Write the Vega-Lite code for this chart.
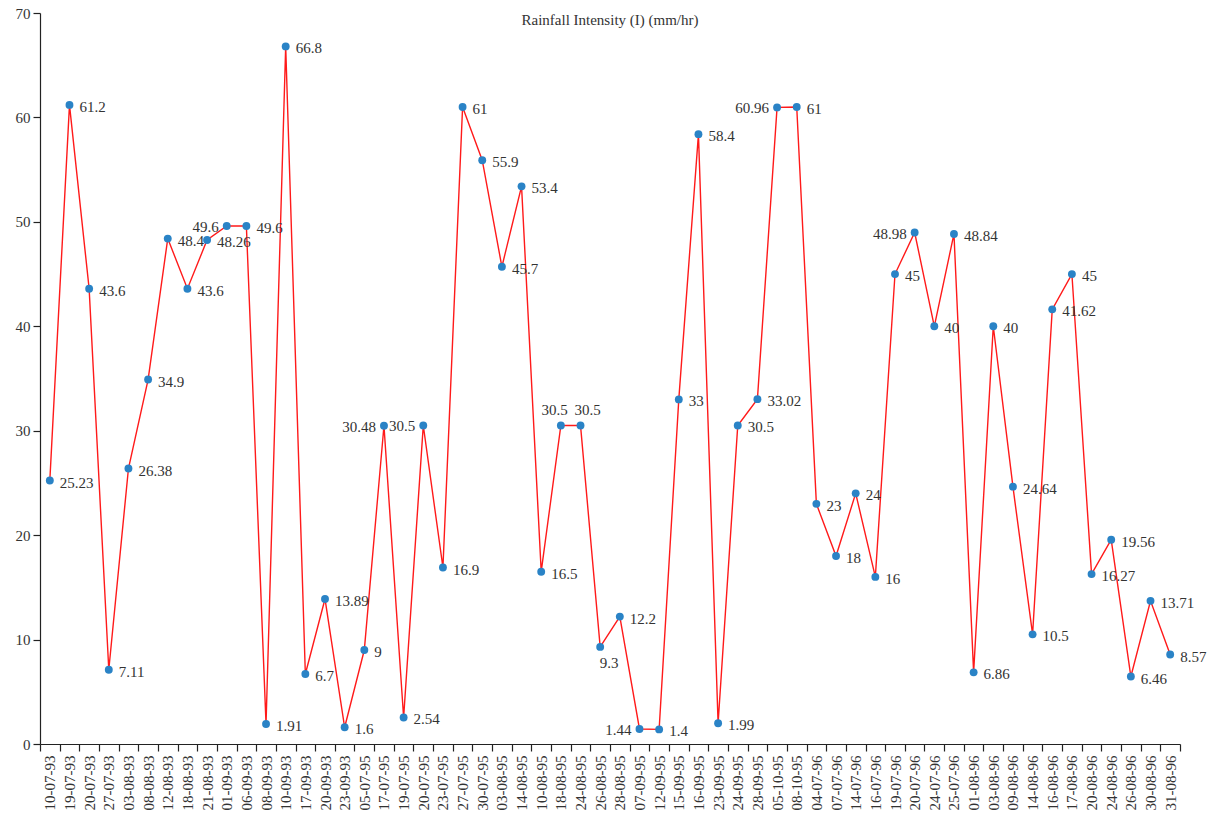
{
  "$schema": "https://vega.github.io/schema/vega-lite/v6.json",
  "autosize": {"type": "none"},
  "padding": {"left": 40, "top": 13, "right": 28, "bottom": 83},
  "width": 1140,
  "height": 731,
  "background": "white",
  "title": {
    "text": "Rainfall Intensity (I) (mm/hr)",
    "font": "Liberation Serif",
    "fontSize": 15,
    "fontWeight": "normal",
    "color": "#333333",
    "anchor": "middle",
    "frame": "group",
    "baseline": "alphabetic",
    "offset": -34
  },
  "config": {
    "view": {"stroke": null},
    "font": "Liberation Serif",
    "text": {"font": "Liberation Serif"}
  },
  "data": {
    "values": [
      {"date": "10-07-93", "I": 25.23},
      {"date": "19-07-93", "I": 61.2},
      {"date": "20-07-93", "I": 43.6},
      {"date": "27-07-93", "I": 7.11},
      {"date": "03-08-93", "I": 26.38},
      {"date": "08-08-93", "I": 34.9},
      {"date": "12-08-93", "I": 48.4},
      {"date": "18-08-93", "I": 43.6},
      {"date": "21-08-93", "I": 48.26},
      {"date": "01-09-93", "I": 49.6},
      {"date": "06-09-93", "I": 49.6},
      {"date": "08-09-93", "I": 1.91},
      {"date": "10-09-93", "I": 66.8},
      {"date": "17-09-93", "I": 6.7},
      {"date": "20-09-93", "I": 13.89},
      {"date": "23-09-93", "I": 1.6},
      {"date": "05-07-95", "I": 9},
      {"date": "17-07-95", "I": 30.48},
      {"date": "19-07-95", "I": 2.54},
      {"date": "20-07-95", "I": 30.5},
      {"date": "23-07-95", "I": 16.9},
      {"date": "27-07-95", "I": 61},
      {"date": "30-07-95", "I": 55.9},
      {"date": "03-08-95", "I": 45.7},
      {"date": "14-08-95", "I": 53.4},
      {"date": "10-08-95", "I": 16.5},
      {"date": "18-08-95", "I": 30.5},
      {"date": "24-08-95", "I": 30.5},
      {"date": "26-08-95", "I": 9.3},
      {"date": "28-08-95", "I": 12.2},
      {"date": "07-09-95", "I": 1.44},
      {"date": "12-09-95", "I": 1.4},
      {"date": "15-09-95", "I": 33},
      {"date": "16-09-95", "I": 58.4},
      {"date": "23-09-95", "I": 1.99},
      {"date": "24-09-95", "I": 30.5},
      {"date": "28-09-95", "I": 33.02},
      {"date": "05-10-95", "I": 60.96},
      {"date": "08-10-95", "I": 61},
      {"date": "04-07-96", "I": 23},
      {"date": "07-07-96", "I": 18},
      {"date": "14-07-96", "I": 24},
      {"date": "16-07-96", "I": 16},
      {"date": "19-07-96", "I": 45},
      {"date": "20-07-96", "I": 48.98},
      {"date": "24-07-96", "I": 40},
      {"date": "25-07-96", "I": 48.84},
      {"date": "01-08-96", "I": 6.86},
      {"date": "03-08-96", "I": 40},
      {"date": "09-08-96", "I": 24.64},
      {"date": "14-08-96", "I": 10.5},
      {"date": "16-08-96", "I": 41.62},
      {"date": "17-08-96", "I": 45},
      {"date": "20-08-96", "I": 16.27},
      {"date": "24-08-96", "I": 19.56},
      {"date": "26-08-96", "I": 6.46},
      {"date": "30-08-96", "I": 13.71},
      {"date": "31-08-96", "I": 8.57}
    ]
  },
  "encoding": {
    "x": {
      "field": "date",
      "type": "nominal",
      "sort": null,
      "scale": {"type": "band", "paddingInner": 0, "paddingOuter": 0},
      "axis": {
        "title": null,
        "labelAngle": 270,
        "labelFont": "Liberation Serif",
        "labelFontSize": 15,
        "labelColor": "#333333",
        "labelPadding": 4,
        "tickBand": "extent",
        "tickSize": 7,
        "tickColor": "#222222",
        "tickWidth": 1.2,
        "domainColor": "#222222",
        "domainWidth": 1.2,
        "grid": false
      }
    },
    "y": {
      "field": "I",
      "type": "quantitative",
      "scale": {"domain": [0, 70], "nice": false},
      "axis": {
        "title": null,
        "values": [0, 10, 20, 30, 40, 50, 60, 70],
        "labelFont": "Liberation Serif",
        "labelFontSize": 15,
        "labelColor": "#333333",
        "labelPadding": 3,
        "tickSize": 7,
        "tickColor": "#222222",
        "tickWidth": 1.2,
        "domainColor": "#222222",
        "domainWidth": 1.2,
        "grid": false
      }
    }
  },
  "layer": [
    {
      "mark": {"type": "line", "color": "#ff1a1a", "strokeWidth": 1.4}
    },
    {
      "mark": {"type": "point", "filled": true, "opacity": 1, "color": "#2a83c6", "size": 62}
    },
    {
      "transform": [{"filter": {"not": {"field": "date", "oneOf": ["01-09-93", "17-07-95", "20-07-95", "07-09-95", "05-10-95", "20-07-96", "18-08-95", "24-08-95", "26-08-95"]}}}],
      "mark": {"type": "text", "align": "left", "baseline": "middle", "dx": 10, "dy": 2, "fontSize": 15, "color": "#333333", "font": "Liberation Serif"},
      "encoding": {"text": {"field": "I", "type": "quantitative"}}
    },
    {
      "transform": [{"filter": {"field": "date", "oneOf": ["01-09-93", "17-07-95", "20-07-95", "07-09-95", "05-10-95", "20-07-96"]}}],
      "mark": {"type": "text", "align": "right", "baseline": "middle", "dx": -8, "dy": 1, "fontSize": 15, "color": "#333333", "font": "Liberation Serif"},
      "encoding": {"text": {"field": "I", "type": "quantitative"}}
    },
    {
      "transform": [{"filter": {"field": "date", "oneOf": ["18-08-95"]}}],
      "mark": {"type": "text", "align": "right", "baseline": "alphabetic", "dx": 7, "dy": -10, "fontSize": 15, "color": "#333333", "font": "Liberation Serif"},
      "encoding": {"text": {"field": "I", "type": "quantitative"}}
    },
    {
      "transform": [{"filter": {"field": "date", "oneOf": ["24-08-95"]}}],
      "mark": {"type": "text", "align": "left", "baseline": "alphabetic", "dx": -6, "dy": -10, "fontSize": 15, "color": "#333333", "font": "Liberation Serif"},
      "encoding": {"text": {"field": "I", "type": "quantitative"}}
    },
    {
      "transform": [{"filter": {"field": "date", "oneOf": ["26-08-95"]}}],
      "mark": {"type": "text", "align": "center", "baseline": "top", "dx": 9, "dy": 9, "fontSize": 15, "color": "#333333", "font": "Liberation Serif"},
      "encoding": {"text": {"field": "I", "type": "quantitative"}}
    }
  ]
}
